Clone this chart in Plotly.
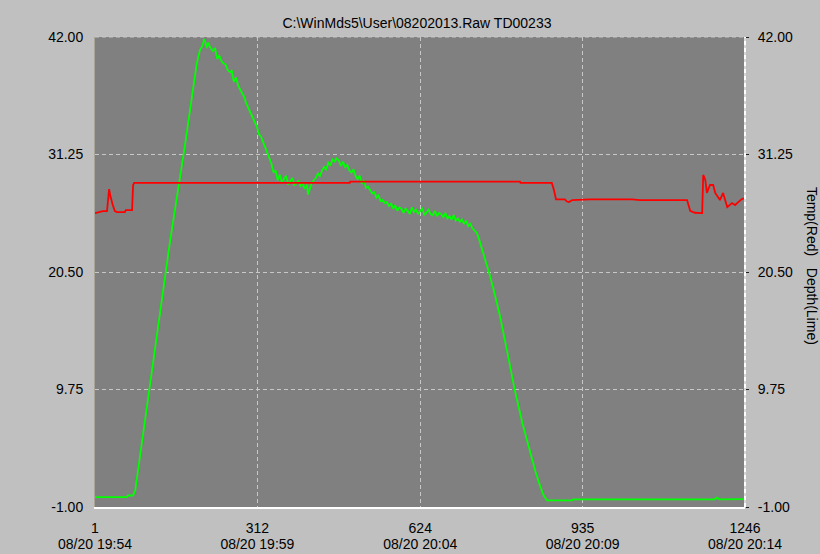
import plotly.graph_objects as go

# ---------------- data ----------------
title_text = "C:\\WinMds5\\User\\08202013.Raw TD00233"

x_tick_vals = [1, 312, 624, 935, 1246]
x_tick_nums = ["1", "312", "624", "935", "1246"]
x_tick_dates = ["08/20 19:54", "08/20 19:59", "08/20 20:04", "08/20 20:09", "08/20 20:14"]

y_tick_vals = [-1.0, 9.75, 20.5, 31.25, 42.0]
y_tick_text = ["-1.00", "9.75", "20.50", "31.25", "42.00"]

depth_idx = [1, 62, 64, 74, 78, 110, 145, 173, 196, 202, 207, 210,
             212, 215, 218, 221, 224, 227, 231, 235, 239, 243, 247, 251, 255, 259, 263, 267, 271,
             275, 279, 283, 287, 291, 295, 299, 303, 307, 311, 315, 319, 323, 327, 331, 335, 339,
             343, 347, 351, 355, 359, 363, 367, 371, 375, 379, 383, 387, 391, 395, 399, 403, 407,
             409, 412, 416, 420, 424, 428, 432, 436, 440, 444, 448, 452, 456, 460, 464, 468, 472,
             476, 480, 484, 488, 492, 496, 500, 504, 508, 512, 516, 520, 524, 528, 532, 536, 540,
             544, 548, 552, 556, 560, 564, 568, 572, 576, 580, 584, 588, 592, 596, 600, 604, 608,
             612, 616, 620, 624, 628, 632, 636, 640, 644, 648, 652, 656, 660, 664, 668, 672, 676,
             680, 684, 688, 692, 696, 700, 704, 708, 712, 716, 720, 724, 728, 732, 736, 740, 744,
             748, 752, 756, 766, 777, 791, 805, 820, 834, 845, 853, 860, 867, 915, 917, 1188, 1192,
             1197, 1246]
depth_val = [-0.1, -0.1, 0.05, 0.05, 0.5, 11.5, 23.4, 32.0, 39.6, 40.8, 41.2, 41.8,
             41.6, 41.0, 41.5, 41.1, 40.9, 40.7, 41.0, 40.0, 40.3, 39.8, 39.6, 39.5, 39.0, 38.8, 38.9, 37.9, 38.3,
             37.6, 37.2, 36.9, 36.5, 35.9, 35.5, 35.1, 34.6, 34.2, 33.8, 33.1, 32.9, 32.4, 31.9, 31.5, 30.9, 30.4,
             29.6, 29.8, 28.9, 29.4, 28.7, 29.0, 29.3, 28.5, 28.8, 29.1, 28.4, 28.7, 28.9, 28.3, 28.6, 28.1, 28.5,
             27.6, 28.0, 28.6, 28.9, 29.1, 29.5, 29.3, 29.8, 30.1, 29.9, 30.5, 30.3, 30.8, 30.6, 30.9, 30.7, 30.2,
             30.6, 30.1, 30.3, 29.8, 29.6, 29.9, 29.3, 29.0, 29.3, 28.6, 28.9, 28.2, 28.3, 28.0, 27.7, 27.8, 27.3,
             27.5, 27.0, 27.1, 26.8, 26.9, 26.5, 26.8, 26.3, 26.6, 26.1, 26.4, 26.3, 25.9, 26.3, 26.1, 25.8, 26.4,
             26.0, 26.2, 25.8, 26.1, 26.3, 25.7, 26.0, 26.2, 25.8, 25.7, 26.1, 25.6, 25.9, 25.8, 25.5, 25.9, 25.4,
             25.6, 25.3, 25.7, 25.2, 25.4, 25.1, 25.3, 24.9, 25.2, 24.7, 24.9, 24.5, 24.3, 24.1, 23.6, 23.0, 22.3,
             21.7, 21.0, 20.4, 18.6, 16.4, 13.1, 9.7, 6.6, 4.0, 2.2, 1.0, 0.1, -0.4, -0.4, -0.3, -0.3, -0.15,
             -0.3, -0.28]

temp_idx = [1, 11, 16, 24, 26, 28, 30, 32, 35, 39, 43, 58, 60, 72, 74, 76, 489, 490, 815, 816,
            876, 880, 884, 901, 905, 909, 915, 949, 1030, 1045, 1135, 1141, 1150, 1164, 1166, 1170,
            1173, 1179, 1185, 1189, 1198, 1204, 1212, 1221, 1227, 1233, 1240, 1246]
temp_val = [25.89, 25.98, 26.07, 26.07, 27.54, 28.09, 27.54, 27.08, 26.63, 26.07, 25.98, 25.98, 26.17,
            26.17, 28.46, 28.65, 28.65, 28.76, 28.76, 28.65, 28.65, 28.0, 27.15, 27.15, 26.95, 26.9, 27.08,
            27.15, 27.15, 27.08, 27.08, 26.10, 25.92, 25.89, 29.38, 28.92, 27.73, 28.46, 28.46, 27.73, 27.08,
            27.73, 26.44, 26.81, 26.63, 26.90, 27.18, 27.27]

# ---------------- figure ----------------
FONT = "Liberation Sans, Arial, sans-serif"
X_RANGE = [1, 1246]
Y_RANGE = [-1, 42]

fig = go.Figure()
fig.add_trace(go.Scatter(x=depth_idx, y=depth_val, mode="lines",
                         line=dict(color="#00ff00", width=1.8), xaxis="x", yaxis="y",
                         hoverinfo="skip", showlegend=False))
fig.add_trace(go.Scatter(x=temp_idx, y=temp_val, mode="lines",
                         line=dict(color="#ff0000", width=1.8), xaxis="x2", yaxis="y2",
                         hoverinfo="skip", showlegend=False))

fig.update_layout(
    width=820, height=554,
    paper_bgcolor="#c0c0c0", plot_bgcolor="#808080",
    margin=dict(l=95, r=75, t=37, b=47, autoexpand=False),
    font=dict(family=FONT, size=14, color="#000000"),
    title=dict(text=title_text, x=0.5085, xref="container", xanchor="center",
               y=1 - 23 / 554, yref="container", yanchor="middle",
               font=dict(family=FONT, size=14, color="#000000")),
    xaxis=dict(range=X_RANGE, tickvals=x_tick_vals, ticktext=x_tick_nums,
               showgrid=True, gridcolor="#c8c8c8", griddash="4px,3px", gridwidth=1,
               zeroline=False, showline=True, linecolor="#ffffff", linewidth=2,
               ticks="", ticklabelstandoff=7, automargin=False, fixedrange=True),
    xaxis2=dict(range=X_RANGE, tickvals=x_tick_vals, ticktext=x_tick_dates,
                overlaying="x", anchor="y", side="bottom",
                showgrid=False, zeroline=False, showline=False,
                ticks="", ticklabelstandoff=27, automargin=False, fixedrange=True),
    yaxis=dict(range=Y_RANGE, tickvals=y_tick_vals, ticktext=y_tick_text,
               showgrid=True, gridcolor="#c8c8c8", griddash="4px,3px", gridwidth=1,
               zeroline=False, showline=True, linecolor="#a8a498", linewidth=1,
               ticks="", ticklabelstandoff=8, automargin=False, fixedrange=True),
    yaxis2=dict(range=Y_RANGE, tickvals=y_tick_vals, ticktext=y_tick_text,
                overlaying="y", anchor="x", side="right",
                showgrid=False, zeroline=False, showline=False,
                ticks="outside", ticklen=3, tickcolor="#202020", ticklabelstandoff=6,
                automargin=False, fixedrange=True),
    shapes=[
        dict(type="line", xref="paper", yref="paper", x0=0, x1=1, y0=1, y1=1,
             line=dict(color="#c8c8c8", width=1, dash="4px,3px")),
        dict(type="line", xref="paper", yref="paper", x0=1, x1=1, y0=0, y1=1,
             line=dict(color="#d8d8d8", width=2)),
        dict(type="line", xref="paper", yref="paper", x0=1, x1=1, y0=0, y1=1,
             line=dict(color="#ffffff", width=2, dash="4px,3px")),
    ],
    annotations=[
        dict(text="Temp(Red)   Depth(Lime)", xref="paper", yref="paper",
             x=1, xshift=67, y=0.513, textangle=90, showarrow=False,
             xanchor="center", yanchor="middle",
             font=dict(family=FONT, size=14, color="#000000")),
    ],
)

fig.write_html(
    "out.html",
    config={"displayModeBar": False, "staticPlot": True},
    post_script="document.body.style.margin='0px';document.body.style.backgroundColor='#c0c0c0';",
)
